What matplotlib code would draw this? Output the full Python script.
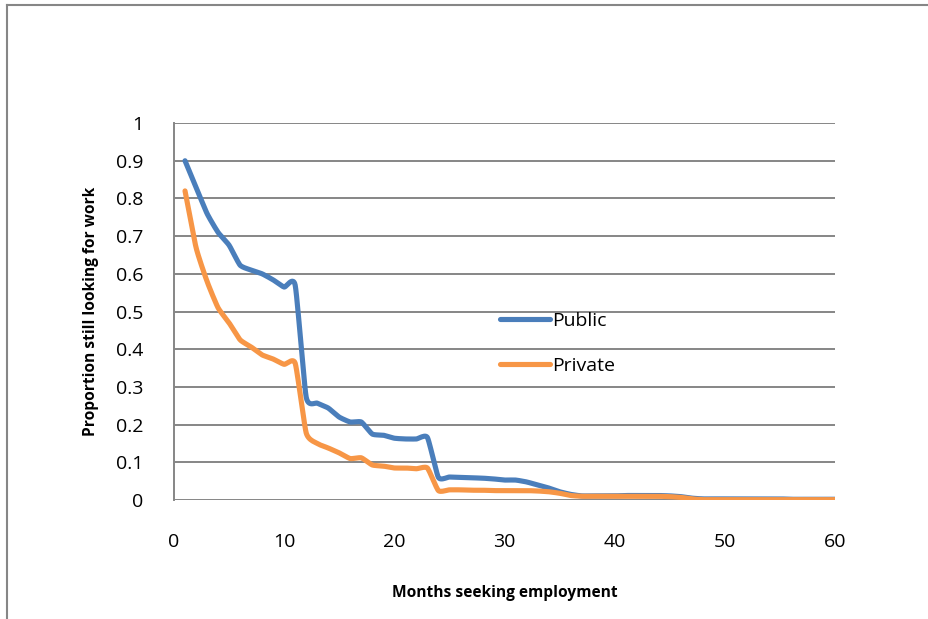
import matplotlib
matplotlib.use("Agg")
import matplotlib.pyplot as plt
from matplotlib.lines import Line2D
import numpy as np

plt.rcParams['font.family'] = ['Open Sans', 'DejaVu Sans']

# Months seeking employment and share still searching, by sector
months = list(range(1, 61))
public = [0.90, 0.83, 0.76, 0.71, 0.676, 0.623, 0.61, 0.60, 0.584, 0.565,
          0.57, 0.273, 0.257, 0.244, 0.22, 0.207, 0.207, 0.175, 0.172, 0.164,
          0.162, 0.162, 0.166, 0.06, 0.061, 0.06, 0.059, 0.058, 0.056, 0.053,
          0.053, 0.048, 0.04, 0.032, 0.022, 0.015, 0.011, 0.011, 0.011, 0.011,
          0.012, 0.012, 0.012, 0.012, 0.011, 0.009, 0.005, 0.003, 0.003, 0.003,
          0.003, 0.003, 0.003, 0.003, 0.003, 0.002, 0.002, 0.002, 0.002, 0.002]
private = [0.82, 0.67, 0.58, 0.51, 0.47, 0.425, 0.406, 0.385, 0.374, 0.36,
           0.363, 0.178, 0.15, 0.138, 0.125, 0.11, 0.112, 0.093, 0.09, 0.085,
           0.085, 0.083, 0.085, 0.025, 0.027, 0.027, 0.026, 0.026, 0.025, 0.025,
           0.025, 0.025, 0.024, 0.022, 0.018, 0.012, 0.01, 0.01, 0.01, 0.01,
           0.01, 0.01, 0.01, 0.01, 0.009, 0.007, 0.003, 0.001, 0.001, 0.001,
           0.001, 0.001, 0.001, 0.001, 0.001, 0.001, 0.001, 0.001, 0.001, 0.001]


def smooth(x, y, n=12, tension=0.55):
    # cardinal spline through the monthly points (smoothed line series)
    x = np.asarray(x, float)
    y = np.asarray(y, float)
    px = np.concatenate([[2 * x[0] - x[1]], x, [2 * x[-1] - x[-2]]])
    py = np.concatenate([[2 * y[0] - y[1]], y, [2 * y[-1] - y[-2]]])
    t = np.linspace(0, 1, n, endpoint=False)
    h00 = 2 * t ** 3 - 3 * t ** 2 + 1
    h10 = t ** 3 - 2 * t ** 2 + t
    h01 = -2 * t ** 3 + 3 * t ** 2
    h11 = t ** 3 - t ** 2
    xs, ys = [], []
    for i in range(1, len(px) - 2):
        for p, out in ((px, xs), (py, ys)):
            m1 = tension * (p[i + 1] - p[i - 1]) / 2
            m2 = tension * (p[i + 2] - p[i]) / 2
            out.extend(h00 * p[i] + h10 * m1 + h01 * p[i + 1] + h11 * m2)
    xs.append(x[-1])
    ys.append(y[-1])
    return np.array(xs), np.array(ys)


fig = plt.figure(figsize=(9.29, 6.19), dpi=100)
ax = fig.add_axes([0.1873, 0.1922, 0.7115, 0.609])

grid_col = '#868686'
ax.set_xlim(0, 60)
ax.set_ylim(0, 1)
ax.set_yticks(np.arange(0, 1.01, 0.1))
ax.set_yticklabels(['0', '0.1', '0.2', '0.3', '0.4', '0.5', '0.6', '0.7', '0.8', '0.9', '1'])
ax.set_xticks(range(0, 61, 10))
ax.yaxis.grid(True, color=grid_col, linewidth=1.4)
ax.set_axisbelow(True)
for s in ['top', 'right', 'bottom']:
    ax.spines[s].set_visible(False)
ax.spines['left'].set_color(grid_col)
ax.spines['left'].set_linewidth(1.4)
ax.tick_params(length=0, labelsize=14, colors='black')
ax.tick_params(axis='y', pad=22)
ax.tick_params(axis='x', pad=24)

xs, ys = smooth(months, public)
ax.plot(xs, ys, color='#4A7EBB', linewidth=3.7, solid_capstyle='round', label='Public')
xs, ys = smooth(months, private)
ax.plot(xs, ys, color='#F79646', linewidth=3.7, solid_capstyle='round', label='Private')

ax.set_ylabel('Proportion still looking for work', fontsize=11.2, fontweight='bold', labelpad=12)
ax.set_xlabel('Months seeking employment', fontsize=11.2, fontweight='bold', labelpad=24)

ax.legend(loc='center left', bbox_to_anchor=(0.493, 0.415), frameon=False,
          fontsize=14, handlelength=2.6, handletextpad=0.1, labelspacing=1.4,
          borderaxespad=0, borderpad=0)

# outer chart frame (left and top edges)
fig.add_artist(Line2D([7 / 929, 7 / 929], [0, 1 - 5 / 619], transform=fig.transFigure,
                      color=grid_col, linewidth=1.5))
fig.add_artist(Line2D([7 / 929, 1], [1 - 5 / 619, 1 - 5 / 619], transform=fig.transFigure,
                      color=grid_col, linewidth=1.5))

fig.savefig('out.png', dpi=100, facecolor='white')
